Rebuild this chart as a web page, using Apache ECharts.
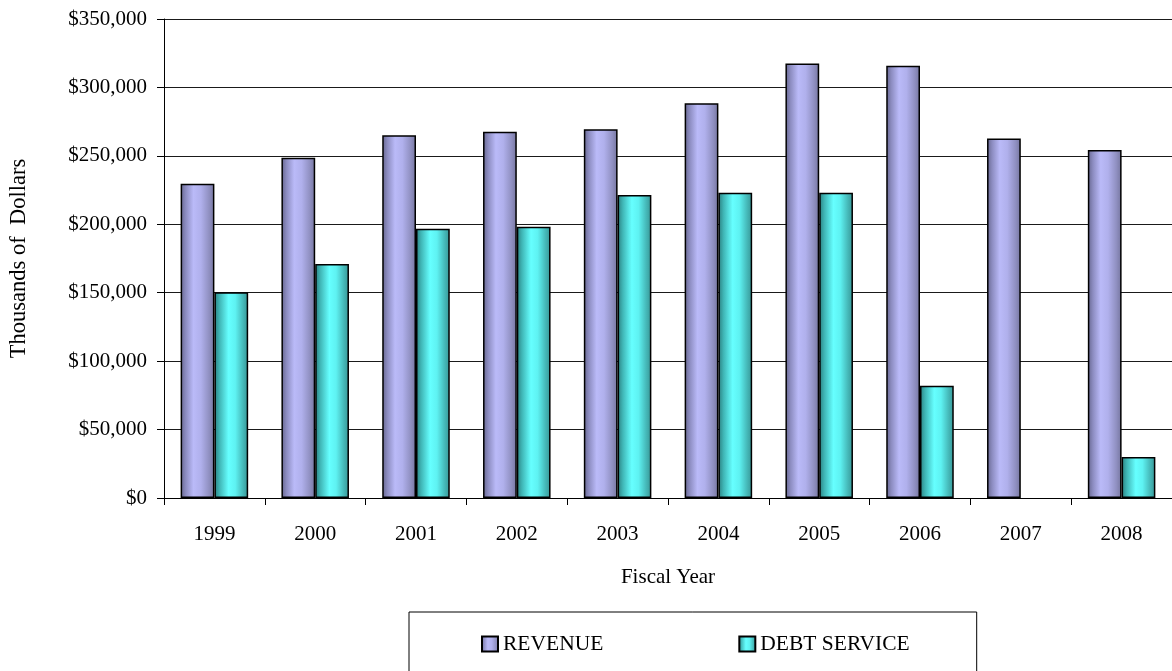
<!DOCTYPE html>
<html>
<head>
<meta charset="utf-8">
<script src="https://cdn.jsdelivr.net/npm/echarts@6/dist/echarts.min.js"></script>
<style>
html,body{margin:0;padding:0;background:#fff;}
#chart{width:1172px;height:671px;}
</style>
</head>
<body>
<div id="chart"></div>
<script>
const categories = ['1999','2000','2001','2002','2003','2004','2005','2006','2007','2008'];
const revenue = [229700, 248700, 265000, 267700, 269400, 288400, 317400, 315900, 262600, 254300];
const debtService = [150300, 171000, 196800, 198200, 221400, 223100, 223100, 82100, null, 30000];
const yTicks = [0, 50000, 100000, 150000, 200000, 250000, 300000, 350000];

const FONT = '"Liberation Serif", "Times New Roman", serif';

function grad(stops) {
  return new echarts.graphic.LinearGradient(0, 0, 1, 0, stops.map(s => ({offset: s[0], color: s[1]})));
}
const revGrad = grad([[0,'#66668e'],[0.15,'#8c8cc0'],[0.38,'#babaf8'],[0.6,'#b0b0ec'],[0.85,'#8f8fc0'],[1,'#75759e']]);
const debtGrad = grad([[0,'#2a7f7f'],[0.15,'#3fb5b5'],[0.42,'#66ffff'],[0.62,'#5ef2f2'],[0.85,'#45b8b8'],[1,'#379595']]);

function fmt(v){ return '$' + v.toLocaleString('en-US'); }

const chart = echarts.init(document.getElementById('chart'), null, {renderer:'canvas'});
chart.setOption({
  animation: false,
  backgroundColor: '#ffffff',
  textStyle: {fontFamily: FONT, color: '#000'},
  grid: {left: 163, right: -9, top: 19, bottom: 173, containLabel: false},
  legend: {
    data: ['REVENUE', 'DEBT SERVICE'],
    left: 409, top: 612,
    orient: 'horizontal',
    icon: 'rect',
    padding: [21, 67, 40, 72],
    itemGap: 135,
    itemWidth: 16, itemHeight: 15,
    borderColor: '#000', borderWidth: 1,
    textStyle: {fontFamily: FONT, fontSize: 21.5, color: '#000'}
  },
  xAxis: {
    type: 'category',
    data: categories,
    name: 'Fiscal Year',
    nameLocation: 'middle',
    nameGap: 69,
    nameTextStyle: {fontFamily: FONT, fontSize: 21, color: '#000'},
    axisLine: {lineStyle: {color: '#000', width: 1}},
    axisTick: {show: true, alignWithLabel: false, length: 7, lineStyle: {color: '#000'}},
    axisLabel: {margin: 26, fontFamily: FONT, fontSize: 21, color: '#000'},
    splitLine: {show: false}
  },
  yAxis: {
    type: 'value',
    min: yTicks[0], max: yTicks[yTicks.length-1], interval: 50000,
    name: 'Thousands of  Dollars',
    nameLocation: 'middle',
    nameGap: 133,
    nameTextStyle: {fontFamily: FONT, fontSize: 22.5, color: '#000'},
    axisLine: {show: true, lineStyle: {color: '#000', width: 1}},
    axisTick: {show: true, length: 7, lineStyle: {color: '#000'}},
    axisLabel: {margin: 17, fontFamily: FONT, fontSize: 21, color: '#000', formatter: fmt},
    splitLine: {show: true, lineStyle: {color: '#1a1a1a', width: 1}}
  },
  series: [
    {
      name: 'REVENUE', type: 'bar', data: revenue,
      barGap: '0%', barCategoryGap: '33%',
      itemStyle: {color: revGrad, borderColor: '#000', borderWidth: 1.5}
    },
    {
      name: 'DEBT SERVICE', type: 'bar', data: debtService,
      barGap: '0%', barCategoryGap: '33%',
      itemStyle: {color: debtGrad, borderColor: '#000', borderWidth: 1.5}
    }
  ]
});
</script>
</body>
</html>
